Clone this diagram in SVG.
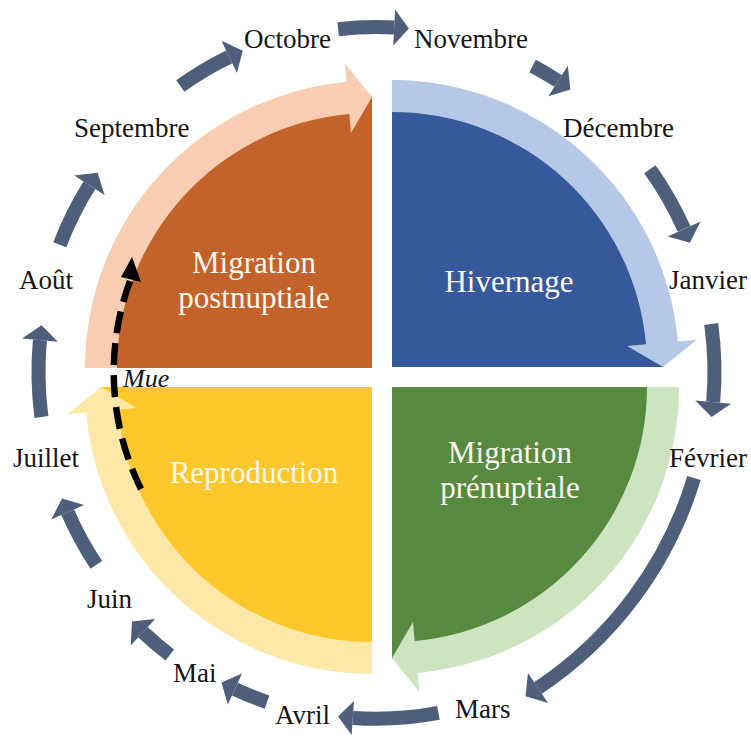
<svg xmlns="http://www.w3.org/2000/svg" width="751" height="738" viewBox="0 0 751 738">
<style>
.month{font-family:"Liberation Serif","Times New Roman",serif;font-size:27px;fill:#161616}
.qlabel{font-family:"Liberation Serif","Times New Roman",serif;font-size:31px;fill:#fbf8f0;text-anchor:middle}
.mue{font-family:"Liberation Serif","Times New Roman",serif;font-size:26px;font-style:italic;fill:#161616}
.body{fill:none;stroke:#4d5f7a;stroke-width:14;stroke-linecap:butt}
.head{fill:#4d5f7a}
</style>
<rect width="751" height="738" fill="#ffffff"/>

<g id="migration-postnuptiale">
<path d="M372 368 L100 368 A272 272 0 0 1 372 96 Z" fill="#c4622b"/>
<path d="M85 368 A287 287 0 0 1 346.5 82.1 L344.8 63.2 L372 97 L351 132.9 L349.3 114 A255 255 0 0 0 117 368 Z" fill="#f8cdb2"/>
<text class="qlabel" x="254" y="273">Migration</text>
<text class="qlabel" x="254" y="308">postnuptiale</text>
</g>

<g id="hivernage">
<path d="M392 367 L392 95 A272 272 0 0 1 664 367 Z" fill="#36599b"/>
<path d="M392 80 A287 287 0 0 1 677.9 341.5 L696.8 339.8 L663 367 L627.1 346 L646 344.3 A255 255 0 0 0 392 112 Z" fill="#b5c8e8"/>
<text class="qlabel" x="509" y="292">Hivernage</text>
</g>

<g id="migration-prenuptiale">
<path d="M392 387 L664 387 A272 272 0 0 1 392 659 Z" fill="#578a3f"/>
<path d="M679 387 A287 287 0 0 1 417.5 672.9 L419.2 691.8 L392 658 L413 622.1 L414.7 641 A255 255 0 0 0 647 387 Z" fill="#cce4c0"/>
<text class="qlabel" x="510" y="463">Migration</text>
<text class="qlabel" x="510" y="498">prénuptiale</text>
</g>

<g id="reproduction">
<path d="M372 387 L372 659 A272 272 0 0 1 100 387 Z" fill="#fec72c"/>
<path d="M372 674 A287 287 0 0 1 86.1 412.5 L67.2 414.2 L101 387 L136.9 408 L118 409.7 A255 255 0 0 0 372 642 Z" fill="#fee8a8"/>
<text class="qlabel" x="254" y="483">Reproduction</text>
</g>

<g id="months">
<g id="m-octobre"><text class="month" x="244" y="48">Octobre</text></g>
<g id="m-novembre"><text class="month" x="414" y="48">Novembre</text></g>
<g id="m-decembre"><text class="month" x="563" y="137">Décembre</text></g>
<g id="m-janvier"><text class="month" x="669" y="289">Janvier</text></g>
<g id="m-fevrier"><text class="month" x="669" y="467">Février</text></g>
<g id="m-mars"><text class="month" x="455" y="718">Mars</text></g>
<g id="m-avril"><text class="month" x="275" y="724">Avril</text></g>
<g id="m-mai"><text class="month" x="173" y="682">Mai</text></g>
<g id="m-juin"><text class="month" x="87" y="608">Juin</text></g>
<g id="m-juillet"><text class="month" x="13" y="467">Juillet</text></g>
<g id="m-aout"><text class="month" x="19" y="289">Août</text></g>
<g id="m-septembre"><text class="month" x="74" y="137">Septembre</text></g>
</g>

<g id="connectors">
<path class="body" d="M180.3 86 A342.1 349.1 0 0 1 229.2 56.9"/>
<polygon class="head" points="221.5,40.7 242.8,50.7 236.9,73.1"/>
<path class="body" d="M338.2 29.2 A338 345 0 0 1 394.2 27.5"/>
<polygon class="head" points="395.1,9.5 408.9,28.6 393.3,45.5"/>
<path class="body" d="M532.6 66 A338 345 0 0 1 558.1 81"/>
<polygon class="head" points="567.8,65.8 570.4,89.4 548.4,96.2"/>
<path class="body" d="M649.9 169.2 A338 345 0 0 1 684.1 228.9"/>
<polygon class="head" points="700.5,221.4 689.9,242.8 667.7,236.4"/>
<path class="body" d="M711.2 324 A338 345 0 0 1 713.2 402.1"/>
<polygon class="head" points="731.1,403.7 711.6,417 695.3,400.5"/>
<path class="body" d="M694 478 A386 386 0 0 1 538 688"/>
<polygon class="head" points="548,703 525.5,696.3 528,673"/>
<path class="body" d="M438.4 712.9 A339.7 346.7 0 0 1 352.8 717.9"/>
<polygon class="head" points="351.6,734.9 338,716.5 354,700.9"/>
<path class="body" d="M267 702.1 A341.4 348.5 0 0 1 234.9 689.1"/>
<polygon class="head" points="227.8,704.6 221.5,682.5 242,673.6"/>
<path class="body" d="M169.8 655 A345.8 352.9 0 0 1 142.9 632.2"/>
<polygon class="head" points="130.7,645.5 132,621.5 155.1,618.9"/>
<path class="body" d="M96.3 564.9 A338 345 0 0 1 67.7 512.3"/>
<polygon class="head" points="51.3,519.6 62,498.4 84.1,505"/>
<path class="body" d="M41.4 417 A338 345 0 0 1 39.9 340.1"/>
<polygon class="head" points="22,338.4 41.6,325.2 57.8,341.8"/>
<path class="body" d="M59.8 244.7 A340.4 347.4 0 0 1 89.4 185.3"/>
<polygon class="head" points="74.2,175.6 97.6,172.7 104.6,195"/>

<g id="mue">
<path d="M130 281 A264 264 0 0 0 143 493" fill="none" stroke="#000000" stroke-width="6.5" stroke-dasharray="22 10"/>
<polygon points="121,277 141,282 132,257" fill="#000000"/>
<text class="mue" x="123" y="387">Mue</text>
</g>
</g>
</svg>
